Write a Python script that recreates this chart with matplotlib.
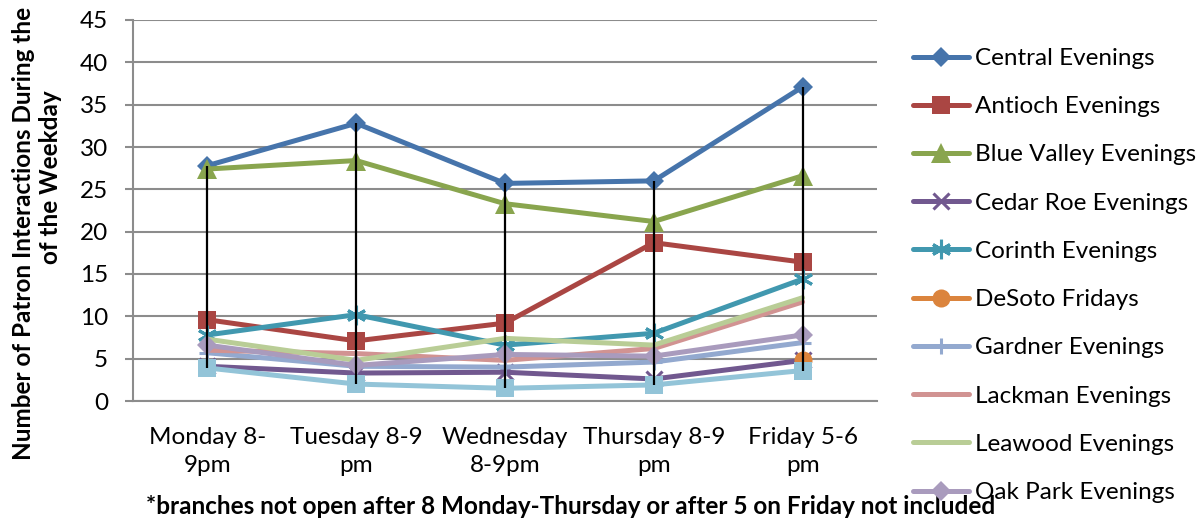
import numpy as np
import matplotlib
matplotlib.use("Agg")
import matplotlib.pyplot as plt

plt.rcParams['font.family'] = ['Lato', 'DejaVu Sans']

categories = ["Monday 8-\n9pm", "Tuesday 8-9\npm", "Wednesday\n8-9pm", "Thursday 8-9\npm", "Friday 5-6\npm"]

central = [27.8, 32.8, 25.7, 26.0, 37.1]
antioch = [9.6, 7.1, 9.2, 18.7, 16.4]
blue_valley = [27.4, 28.4, 23.3, 21.2, 26.6]
cedar_roe = [4.1, 3.3, 3.4, 2.6, 4.8]
corinth = [7.8, 10.2, 6.6, 8.0, 14.4]
desoto = [np.nan, np.nan, np.nan, np.nan, 4.9]
gardner = [5.7, 4.1, 4.0, 4.6, 6.9]
lackman = [6.0, 5.6, 4.8, 6.2, 11.7]
leawood = [7.3, 4.8, 7.4, 6.6, 12.2]
oak_park = [6.6, 4.2, 5.5, 5.3, 7.8]
unlabeled = [3.9, 2.0, 1.5, 1.9, 3.6]

series_names = ["Central Evenings", "Antioch Evenings", "Blue Valley Evenings", "Cedar Roe Evenings",
                "Corinth Evenings", "DeSoto Fridays", "Gardner Evenings", "Lackman Evenings",
                "Leawood Evenings", "Oak Park Evenings", "_nolegend_"]
series_values = [central, antioch, blue_valley, cedar_roe, corinth, desoto, gardner, lackman,
                 leawood, oak_park, unlabeled]
colors = ["#4674AB", "#AA4643", "#89A54E", "#71588F", "#4198AF", "#DB843D", "#93A9CF",
          "#D19392", "#B9CD96", "#A99BBD", "#93C4D8"]
markers = ["D", "s", "^", "x", (6, 2, 0), "o", "+", None, None, "D", "s"]
msizes = [9.7, 13, 14, 11, 14, 13, 12, 0, 0, 9.7, 13]

W, H = 1201, 525
fig = plt.figure(figsize=(W / 100, H / 100), dpi=100)
ax = fig.add_axes([133 / W, 1 - 401 / H, (877 - 133) / W, (401 - 20) / H])

x = np.arange(len(categories))
grid_color = "#8C8C8C"
FS = 17.5

for name, vals, c, m, ms in zip(series_names, series_values, colors, markers, msizes):
    kw = dict(color=c, lw=3.6, label=name, solid_joinstyle='round', solid_capstyle='round')
    if m is not None:
        if m in ("x", "+") or isinstance(m, tuple):
            kw.update(marker=m, ms=ms, mew=2.2, mec=c)
        else:
            kw.update(marker=m, ms=ms, mew=0, mfc=c)
    ax.plot(x, vals, **kw)

arr = np.array(series_values, dtype=float)
hi = np.nanmax(arr, axis=0)
lo = np.nanmin(arr, axis=0)
ax.vlines(x, lo, hi, color="black", lw=1.6, zorder=10)

ax.set_xlim(-0.5, len(categories) - 0.5)
ax.set_ylim(0, 45)
ax.set_yticks(np.arange(0, 46, 5))
ax.yaxis.grid(True, color=grid_color, lw=1.5)
ax.set_axisbelow(True)
for s in ["top", "right"]:
    ax.spines[s].set_visible(False)
for s in ["left", "bottom"]:
    ax.spines[s].set_color(grid_color)
    ax.spines[s].set_linewidth(1.5)
ax.set_xticks(x)
ax.set_xticklabels(categories, fontsize=FS, linespacing=1.4)
ax.tick_params(axis='x', length=0, pad=19)
ax.tick_params(axis='y', length=6, width=1.5, color=grid_color, labelsize=FS, pad=12)

fig.text(37 / W, 1 - 177 / H,
         "Number of Patron Interactions During the Last Hour\nof the Weekday",
         rotation=90, ha='center', va='center', multialignment='center',
         fontsize=FS, fontweight='bold', linespacing=1.2)

fig.text(571 / W, 1 - 506 / H,
         "*branches not open after 8 Monday-Thursday or after 5 on Friday not included",
         ha='center', va='center', fontsize=FS, fontweight='bold')

leg = fig.legend(loc='upper left', bbox_to_anchor=(913 / W, 1 - 48 / H), frameon=False,
                 fontsize=FS, handlelength=2.3, handletextpad=0.25, labelspacing=1.12,
                 borderpad=0, borderaxespad=0)

fig.savefig("out.png", dpi=100)
